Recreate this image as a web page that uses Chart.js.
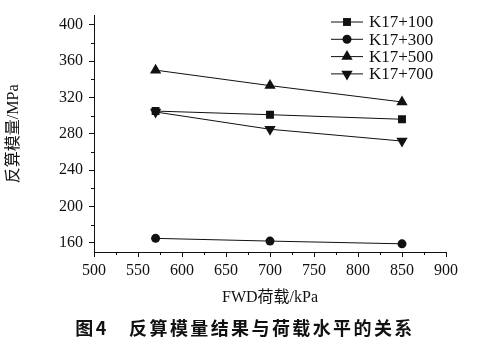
<!DOCTYPE html>
<html lang="zh">
<head>
<meta charset="UTF-8">
<title>反算模量结果与荷载水平的关系</title>
<script src="https://cdn.jsdelivr.net/npm/chart.js"></script>
<style>
  body { margin: 0; background: #fff; }
  #wrap { position: relative; width: 490px; height: 349px; }
  #caption {
    position: absolute; left: 0; top: 314px; width: 490px;
    text-align: center; font-family: 'Noto Sans CJK SC', sans-serif;
    font-size: 18px; font-weight: bold; letter-spacing: 2.4px; color: #111;
  }
</style>
</head>
<body>
<div id="wrap">
  <canvas id="myChart" width="490" height="349"></canvas>
  <div id="caption">图4　反算模量结果与荷载水平的关系</div>
</div>
<script>
const loads = [570, 700, 850];            // FWD load, kPa
const seriesNames = ['K17+100', 'K17+300', 'K17+500', 'K17+700'];
const k17_100 = [305, 301, 296];
const k17_300 = [165, 162, 159];
const k17_500 = [350, 333, 315];
const k17_700 = [304, 285, 272];
const xTicks = [500, 550, 600, 650, 700, 750, 800, 850, 900];
const yTicks = [160, 200, 240, 280, 320, 360, 400];

const serif = "'Liberation Serif', 'Noto Sans CJK SC', serif";
const allValues = [k17_100, k17_300, k17_500, k17_700];
const styles = [
  { pointStyle: 'rect', radius: 5.6, rotation: 0 },
  { pointStyle: 'circle', radius: 4.5, rotation: 0 },
  { pointStyle: 'triangle', radius: 6.5, rotation: 0 },
  { pointStyle: 'triangle', radius: 6.5, rotation: 180 }
];

const datasets = seriesNames.map((name, i) => ({
  label: name,
  data: loads.map((x, j) => ({ x: x, y: allValues[i][j] })),
  borderColor: '#111',
  backgroundColor: '#111',
  borderWidth: 1,
  pointStyle: styles[i].pointStyle,
  pointRadius: styles[i].radius,
  rotation: styles[i].rotation,
  pointBorderWidth: 0,
  tension: 0
}));

function drawMarker(ctx, st, x, y) {
  if (Chart.helpers && Chart.helpers.drawPoint) {
    Chart.helpers.drawPoint(ctx, { pointStyle: st.pointStyle, rotation: st.rotation, radius: st.radius, borderWidth: 0 }, x, y);
  } else {
    ctx.beginPath();
    ctx.arc(x, y, st.radius, 0, Math.PI * 2);
    ctx.fill();
  }
}

// legend with line + marker, and minor ticks
const extras = {
  id: 'extras',
  afterDraw(chart) {
    const ctx = chart.ctx;
    ctx.save();
    ctx.strokeStyle = '#111';
    ctx.fillStyle = '#111';
    ctx.lineWidth = 1;
    // minor ticks
    const xs = chart.scales.x, ys = chart.scales.y;
    for (let i = 0; i < xTicks.length - 1; i++) {
      const px = Math.round(xs.getPixelForValue((xTicks[i] + xTicks[i + 1]) / 2)) + 0.5;
      ctx.beginPath(); ctx.moveTo(px, chart.chartArea.bottom); ctx.lineTo(px, chart.chartArea.bottom + 3); ctx.stroke();
    }
    for (let i = 0; i < yTicks.length - 1; i++) {
      const py = Math.round(ys.getPixelForValue((yTicks[i] + yTicks[i + 1]) / 2)) + 0.5;
      ctx.beginPath(); ctx.moveTo(chart.chartArea.left, py); ctx.lineTo(chart.chartArea.left - 3, py); ctx.stroke();
    }
    // legend
    ctx.font = '17px ' + serif;
    ctx.textBaseline = 'middle';
    seriesNames.forEach((name, i) => {
      const y = 22 + i * 17.3;
      ctx.beginPath(); ctx.moveTo(331, y); ctx.lineTo(363, y); ctx.stroke();
      drawMarker(ctx, styles[i], 347, y);
      ctx.fillText(name, 369, y + 1);
    });
    ctx.restore();
  }
};

new Chart(document.getElementById('myChart'), {
  type: 'line',
  data: { datasets: datasets },
  plugins: [extras],
  options: {
    responsive: false,
    animation: false,
    layout: { padding: { top: 12, right: 44, bottom: 41, left: 0 } },
    plugins: { legend: { display: false }, tooltip: { enabled: false } },
    scales: {
      x: {
        type: 'linear', min: 500, max: 900,
        afterBuildTicks: s => { s.ticks = xTicks.map(v => ({ value: v })); },
        afterFit: s => { s.height = 56; },
        grid: { drawOnChartArea: false, tickLength: 5, color: '#111' },
        border: { color: '#111', width: 1 },
        ticks: { color: '#111', padding: 4, maxRotation: 0, font: { family: serif, size: 16 } },
        title: { display: true, text: 'FWD荷载/kPa', color: '#111', padding: { top: 0, bottom: 1 }, font: { family: serif, size: 16 } }
      },
      y: {
        min: 150, max: 410,
        afterBuildTicks: s => { s.ticks = yTicks.map(v => ({ value: v })); },
        afterFit: s => { s.width = 94; },
        grid: { drawOnChartArea: false, tickLength: 5, color: '#111' },
        border: { color: '#111', width: 1 },
        ticks: { color: '#111', padding: 6, font: { family: serif, size: 16 } },
        title: { display: true, text: '反算模量/MPa', color: '#111', padding: { top: 4, bottom: 0 }, font: { family: serif, size: 16 } }
      }
    }
  }
});
</script>
</body>
</html>
